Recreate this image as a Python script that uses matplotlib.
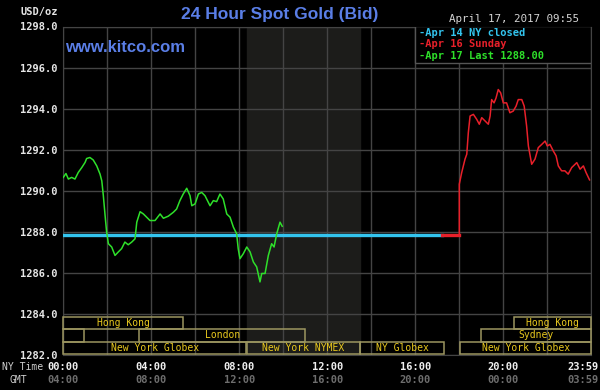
import matplotlib
matplotlib.use("Agg")
import matplotlib.pyplot as plt
from matplotlib.patches import Rectangle
from matplotlib.transforms import blended_transform_factory

# Apr 17 (NY time, hours since midnight) - green
green_hours = [0, 0.12, 0.23, 0.38, 0.53, 0.68, 0.84, 0.99, 1.06, 1.21, 1.36, 1.52,
               1.67, 1.75, 1.82, 1.9, 1.97, 2.05, 2.2, 2.35, 2.5, 2.65, 2.8, 2.95,
               3.11, 3.26, 3.34, 3.49, 3.64, 3.79, 3.94, 4.17, 4.4, 4.55, 4.77, 5.0,
               5.15, 5.3, 5.45, 5.61, 5.76, 5.84, 5.99, 6.14, 6.29, 6.44, 6.67, 6.82,
               6.97, 7.12, 7.27, 7.43, 7.58, 7.73, 7.88, 7.95, 8.03, 8.18, 8.34, 8.49,
               8.64, 8.79, 8.94, 9.02, 9.17, 9.32, 9.47, 9.58, 9.7, 9.85, 9.95]
green_price = [1290.65, 1290.84, 1290.57, 1290.65, 1290.57, 1290.89, 1291.13, 1291.38,
               1291.57, 1291.62, 1291.5, 1291.21, 1290.81, 1290.48, 1289.76, 1288.79,
               1287.98, 1287.42, 1287.26, 1286.85, 1287.02, 1287.18, 1287.5, 1287.37,
               1287.5, 1287.66, 1288.47, 1288.98, 1288.87, 1288.71, 1288.55, 1288.55,
               1288.87, 1288.66, 1288.76, 1288.95, 1289.11, 1289.52, 1289.84, 1290.12,
               1289.76, 1289.27, 1289.36, 1289.84, 1289.92, 1289.76, 1289.27, 1289.52,
               1289.47, 1289.84, 1289.6, 1288.87, 1288.71, 1288.23, 1287.9, 1287.18,
               1286.69, 1286.93, 1287.26, 1287.02, 1286.53, 1286.29, 1285.56, 1285.97,
               1285.97, 1286.85, 1287.42, 1287.26, 1287.9, 1288.47, 1288.27]

# Apr 16 Sunday - red
red_hours = [17.23, 18.0, 18.0, 18.11, 18.26, 18.34, 18.41, 18.49, 18.64, 18.79, 18.91,
             19.02, 19.17, 19.32, 19.4, 19.47, 19.58, 19.67, 19.77, 19.88, 20.0, 20.15,
             20.3, 20.45, 20.58, 20.68, 20.84, 20.95, 21.06, 21.14, 21.29, 21.44, 21.59,
             21.75, 21.9, 22.0, 22.12, 22.27, 22.4, 22.5, 22.65, 22.8, 22.95, 23.11,
             23.34, 23.49, 23.64, 23.76, 23.92]
red_price = [1287.85, 1287.85, 1290.32, 1290.89, 1291.54, 1291.78, 1292.83, 1293.64,
             1293.72, 1293.48, 1293.24, 1293.56, 1293.4, 1293.24, 1293.64, 1294.44,
             1294.28, 1294.52, 1294.93, 1294.77, 1294.28, 1294.28, 1293.8, 1293.88,
             1294.12, 1294.44, 1294.44, 1294.12, 1293.15, 1292.18, 1291.29, 1291.54,
             1292.1, 1292.26, 1292.42, 1292.18, 1292.26, 1291.94, 1291.7, 1291.21,
             1290.97, 1290.97, 1290.81, 1291.13, 1291.37, 1291.05, 1291.21, 1290.89,
             1290.53]

# Apr 14 NY close
close_price = 1287.85
close_end = 17.23

ny_labels = ["00:00", "04:00", "08:00", "12:00", "16:00", "20:00", "23:59"]
gmt_labels = ["04:00", "08:00", "12:00", "16:00", "20:00", "00:00", "03:59"]
label_hours = [0, 4, 8, 12, 16, 20, 23.6]

# market sessions: (label, start, end, row)
sessions = [
    ("Hong Kong", 0, 5.45, 2), ("Hong Kong", 20.5, 24, 2),
    ("", 0, 0.95, 1), ("London", 3.45, 11.0, 1), ("Sydney", 19.0, 24, 1),
    ("New York Globex", 0, 8.3, 0), ("New York NYMEX", 8.33, 13.5, 0),
    ("NY Globex", 13.5, 17.3, 0), ("New York Globex", 18.05, 24, 0),
]

legend_items = [("-Apr 14 NY closed", "#33c4ee"), ("-Apr 16 Sunday", "#e8202a"),
                ("-Apr 17 Last 1288.00", "#2ee02a")]

mono = "DejaVu Sans Mono"
W, H = 600, 390

fig = plt.figure(figsize=(6, 3.9), dpi=100, facecolor="black")
ax = fig.add_axes([63.3 / W, 1 - 355 / H, (591.3 - 63.3) / W, (355 - 26.5) / H])
ax.set_facecolor("black")
ax.set_xlim(0, 24)
ax.set_ylim(1282, 1298)

ax.axvspan(8.33, 13.5, color="#1c1c1a", zorder=0)
ax.set_xticks(range(0, 25, 2))
ax.set_yticks(range(1282, 1299, 2))
ax.grid(True, color="#444444", linewidth=1.0, zorder=1)
ax.set_xticklabels([])
ax.set_yticklabels([f"{v:.1f}" for v in range(1282, 1299, 2)])
ax.tick_params(length=0, pad=4, labelsize=7.5, labelcolor="#e6e6e6")
for t in ax.get_yticklabels():
    t.set_fontfamily(mono)
    t.set_fontweight("bold")
for s in ax.spines.values():
    s.set_color("#444444")

ax.plot([0, close_end], [close_price, close_price], color="#33c4ee", lw=2.4, zorder=3)
ax.plot(red_hours, red_price, color="#e8202a", lw=1.1, zorder=4)
ax.plot(red_hours[:2], red_price[:2], color="#e8202a", lw=2.4, zorder=4)
ax.plot(green_hours, green_price, color="#2ee02a", lw=1.1, zorder=4)

row_h = 0.6
for label, start, end, row in sessions:
    y0 = 1282.05 + row * row_h
    ax.add_patch(Rectangle((start, y0), end - start, row_h, fill=False,
                           edgecolor="#9c9660", lw=1.1, zorder=5, clip_on=False))
    if label:
        ax.text((start + end) / 2, y0 + row_h / 2, label, color="#e8c81e",
                fontsize=7, family=mono, ha="center", va="center", zorder=6)

# legend box
lx0 = (415 - 63.3) / 528
ly0 = (355 - 62.7) / 328.5
ax.add_patch(Rectangle((lx0, ly0), 1 - lx0, 1 - ly0, transform=ax.transAxes,
                       facecolor="black", edgecolor="#555555", lw=1, zorder=7))
for i, (txt, col) in enumerate(legend_items):
    fig.text(419 / W, 1 - (32.7 + i * 11.7) / H, txt, color=col, fontsize=7.5,
             family=mono, fontweight="bold", va="center", zorder=8)

fig.text(280 / W, 1 - 15 / H, "24 Hour Spot Gold (Bid)", color="#5a7ee6",
         fontsize=12.5, family="Liberation Sans", fontweight="bold", ha="center", va="center")
fig.text(65 / W, 1 - 47 / H, "www.kitco.com", color="#5a7ee6", fontsize=12,
         family="Liberation Sans", fontweight="bold", va="center")
fig.text(579 / W, 1 - 18.5 / H, "April 17, 2017 09:55", color="#d4d4d4", fontsize=7.8,
         family=mono, ha="right", va="center")
fig.text(58 / W, 1 - 12.5 / H, "USD/oz", color="#e6e6e6", fontsize=7.5, family=mono,
         fontweight="bold", ha="right", va="center")

tr = blended_transform_factory(ax.transData, fig.transFigure)
for h, ny, gmt in zip(label_hours, ny_labels, gmt_labels):
    ax.text(h, 1 - 367 / H, ny, transform=tr, color="#f0f0f0", fontsize=7.5, family=mono,
            fontweight="bold", ha="center", va="center")
    ax.text(h, 1 - 380 / H, gmt, transform=tr, color="#6e6e6e", fontsize=7.5, family=mono,
            fontweight="bold", ha="center", va="center")
fig.text(2 / W, 1 - 367 / H, "NY Time", color="#d0d0d0", fontsize=7, family=mono, va="center")
fig.text(18 / W, 1 - 380 / H, "GMT", color="#d0d0d0", fontsize=7, family=mono,
         ha="center", va="center")

fig.savefig("out.png", dpi=100, facecolor="black")
